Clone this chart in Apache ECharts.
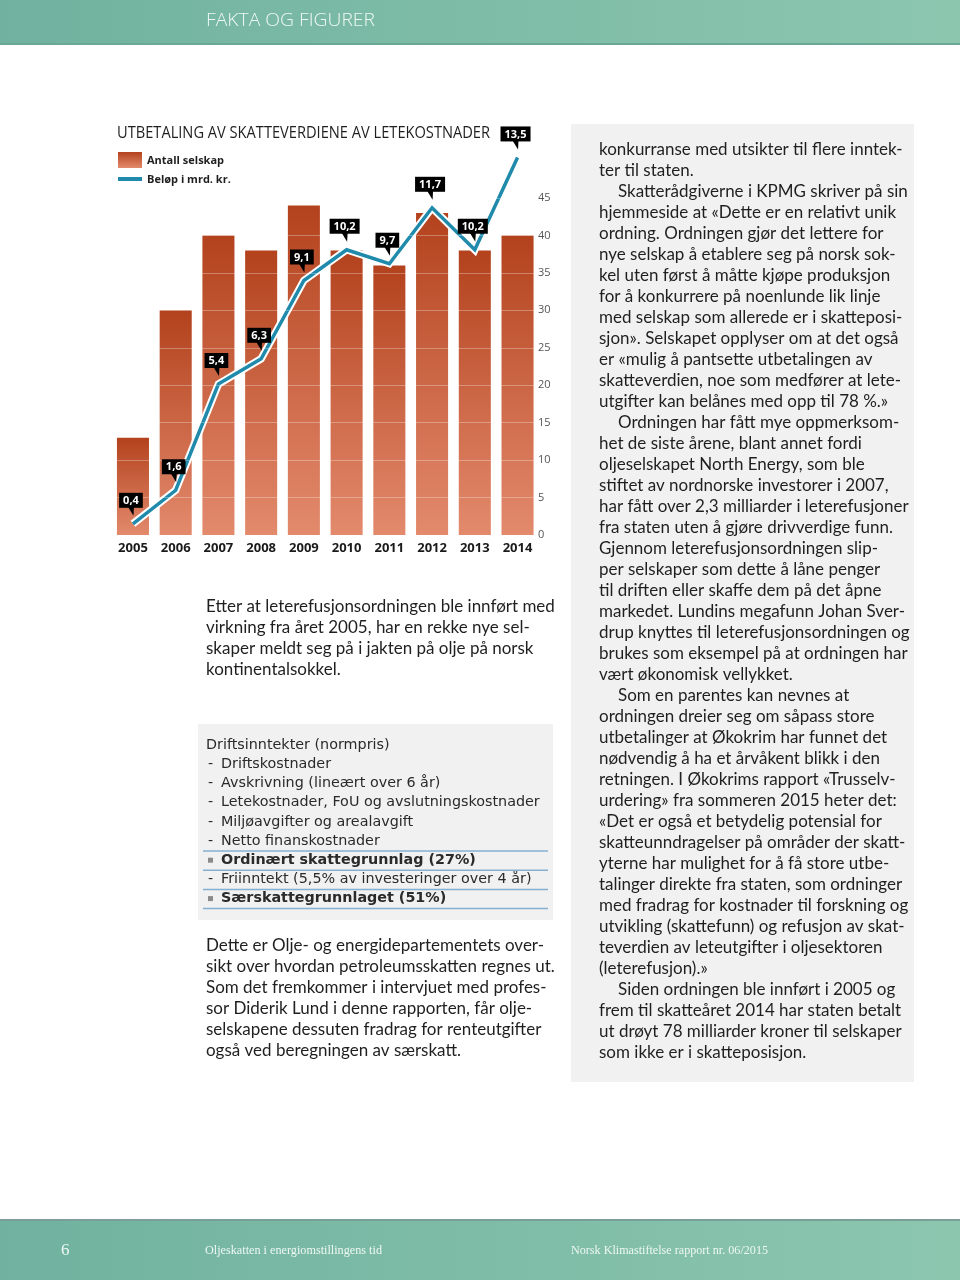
<!DOCTYPE html>
<html>
<head>
<meta charset="utf-8">
<script src="https://cdn.jsdelivr.net/npm/echarts@6/dist/echarts.min.js"></script>
<style>
html,body{margin:0;padding:0;background:#fff;}
#c{width:960px;height:1280px;}
</style>
</head>
<body>
<div id="c"></div>
<script>
// ---------- DATA ----------
const years = ['2005','2006','2007','2008','2009','2010','2011','2012','2013','2014'];
const companies = [13, 30, 40, 38, 44, 38, 36, 43, 38, 40];          // Antall selskap
const amounts = [0.4, 1.6, 5.4, 6.3, 9.1, 10.2, 9.7, 11.7, 10.2, 13.5]; // Beløp i mrd. kr.
const companyAxis = { min: 0, max: 45, interval: 5 };

const chartTitle = 'UTBETALING AV SKATTEVERDIENE AV LETEKOSTNADER';
const legendBar = 'Antall selskap';
const legendLine = 'Beløp i mrd. kr.';

const headerText = 'FAKTA OG FIGURER';
const footerPage = '6';
const footerLeft = 'Oljeskatten i energiomstillingens tid';
const footerRight = 'Norsk Klimastiftelse rapport nr. 06/2015';

const leftIntro = [
  'Etter at leterefusjonsordningen ble innført med',
  'virkning fra året 2005, har en rekke nye sel-',
  'skaper meldt seg på i jakten på olje på norsk',
  'kontinentalsokkel.'
];
const listPrefixes = ['', '-', '-', '-', '-', '-', '▪', '-', '▪'];
const listTexts = [
  'Driftsinntekter (normpris)',
  'Driftskostnader',
  'Avskrivning (lineært over 6 år)',
  'Letekostnader, FoU og avslutningskostnader',
  'Miljøavgifter og arealavgift',
  'Netto finanskostnader',
  'Ordinært skattegrunnlag (27%)',
  'Friinntekt (5,5% av investeringer over 4 år)',
  'Særskattegrunnlaget (51%)'
];
const listRuleAfter = [5, 6, 7, 8];
const leftOutro = [
  'Dette er Olje- og energidepartementets over-',
  'sikt over hvordan petroleumsskatten regnes ut.',
  'Som det fremkommer i intervjuet med profes-',
  'sor Diderik Lund i denne rapporten, får olje-',
  'selskapene dessuten fradrag for renteutgifter',
  'også ved beregningen av særskatt.'
];
const rightLines = [
  'konkurranse med utsikter til flere inntek-',
  'ter til staten.',
  'Skatterådgiverne i KPMG skriver på sin',
  'hjemmeside at «Dette er en relativt unik',
  'ordning. Ordningen gjør det lettere for',
  'nye selskap å etablere seg på norsk sok-',
  'kel uten først å måtte kjøpe produksjon',
  'for å konkurrere på noenlunde lik linje',
  'med selskap som allerede er i skatteposi-',
  'sjon». Selskapet opplyser om at det også',
  'er «mulig å pantsette utbetalingen av',
  'skatteverdien, noe som medfører at lete-',
  'utgifter kan belånes med opp til 78 %.»',
  'Ordningen har fått mye oppmerksom-',
  'het de siste årene, blant annet fordi',
  'oljeselskapet North Energy, som ble',
  'stiftet av nordnorske investorer i 2007,',
  'har fått over 2,3 milliarder i leterefusjoner',
  'fra staten uten å gjøre drivverdige funn.',
  'Gjennom leterefusjonsordningen slip-',
  'per selskaper som dette å låne penger',
  'til driften eller skaffe dem på det åpne',
  'markedet. Lundins megafunn Johan Sver-',
  'drup knyttes til leterefusjonsordningen og',
  'brukes som eksempel på at ordningen har',
  'vært økonomisk vellykket.',
  'Som en parentes kan nevnes at',
  'ordningen dreier seg om såpass store',
  'utbetalinger at Økokrim har funnet det',
  'nødvendig å ha et årvåkent blikk i den',
  'retningen. I Økokrims rapport «Trusselv-',
  'urdering» fra sommeren 2015 heter det:',
  '«Det er også et betydelig potensial for',
  'skatteunndragelser på områder der skatt-',
  'yterne har mulighet for å få store utbe-',
  'talinger direkte fra staten, som ordninger',
  'med fradrag for kostnader til forskning og',
  'utvikling (skattefunn) og refusjon av skat-',
  'teverdien av leteutgifter i oljesektoren',
  '(leterefusjon).»',
  'Siden ordningen ble innført i 2005 og',
  'frem til skatteåret 2014 har staten betalt',
  'ut drøyt 78 milliarder kroner til selskaper',
  'som ikke er i skatteposisjon.'
];
const rightIndented = [2, 13, 26, 40];

// ---------- STYLE ----------
const BAR_TOP = '#b3421d', BAR_BOTTOM = '#e38a6d';
const LINE_COLOR = '#1f8aab';
const TEXT = '#1f1f1f';
const BODY_FONT = 'Lato';

const cv = document.createElement('canvas').getContext('2d');
function measure(text, font) { cv.font = font; return cv.measureText(text).width; }
function fitSize(text, fam, weight, target) { return 100 * target / measure(text, weight + ' 100px ' + fam); }
function fmt(v) { return v.toFixed(1).replace('.', ','); }

const bodySize = (fitSize(rightLines[0], BODY_FONT, 'normal', 306) + fitSize(leftOutro[1], BODY_FONT, 'normal', 346)) / 2;
const bodyFont = 'normal ' + bodySize.toFixed(2) + 'px ' + BODY_FONT;
const listSize = fitSize(listTexts[3], '"DejaVu Sans"', 'normal', 319);

function fittedText(text, x, y, font, fill, target) {
  const sx = target / measure(text, font);
  return { type: 'text', x: x, y: y, scaleX: sx, silent: true,
    style: { text: text, x: 0, y: 0, font: font, fill: fill, align: 'left', verticalAlign: 'middle' } };
}
function txt(text, x, y, font, fill) {
  return { type: 'text', x: x, y: y, silent: true,
    style: { text: text, x: 0, y: 0, font: font, fill: fill, align: 'left', verticalAlign: 'middle' } };
}

const graphics = [];
// header band
graphics.push({ type: 'rect', shape: { x: 0, y: 0, width: 960, height: 45 }, silent: true, z: -10,
  style: { fill: new echarts.graphic.LinearGradient(0, 0, 1, 0, [{ offset: 0, color: '#70b29f' }, { offset: 1, color: '#8cc6af' }]) } });
graphics.push({ type: 'rect', shape: { x: 0, y: 43, width: 960, height: 2 }, silent: true, z: -9, style: { fill: '#6aa794' } });
graphics.push(fittedText(headerText, 206, 21, '300 18px "Open Sans"', '#eef8f4', 169));
// footer band
graphics.push({ type: 'rect', shape: { x: 0, y: 1219, width: 960, height: 61 }, silent: true, z: -10,
  style: { fill: new echarts.graphic.LinearGradient(0, 0, 1, 0, [{ offset: 0, color: '#70b29f' }, { offset: 1, color: '#8cc6af' }]) } });
graphics.push({ type: 'rect', shape: { x: 0, y: 1219, width: 960, height: 2 }, silent: true, z: -9, style: { fill: '#7c9e98' } });
graphics.push(txt(footerPage, 61, 1251, 'normal 17px "Liberation Serif"', '#eef8f4'));
graphics.push(fittedText(footerLeft, 205, 1251, 'normal 13px "Liberation Serif"', '#eef8f4', 177));
graphics.push(fittedText(footerRight, 571, 1251, 'normal 13px "Liberation Serif"', '#eef8f4', 197));

// chart title
graphics.push(fittedText(chartTitle, 117, 133, 'normal 16px "Open Sans"', TEXT, 373));
// legend
graphics.push({ type: 'rect', shape: { x: 118, y: 152, width: 24, height: 16 }, silent: true,
  style: { fill: new echarts.graphic.LinearGradient(0, 0, 0, 1, [{ offset: 0, color: BAR_TOP }, { offset: 1, color: BAR_BOTTOM }]) } });
graphics.push(txt(legendBar, 147, 161, 'bold 11px "Open Sans"', TEXT));
graphics.push({ type: 'rect', shape: { x: 118, y: 177, width: 24, height: 4 }, silent: true, style: { fill: LINE_COLOR } });
graphics.push(txt(legendLine, 147, 180, 'bold 11px "Open Sans"', TEXT));

// left intro text
leftIntro.forEach((l, i) => graphics.push(txt(l, 206, 607 + 21 * i, bodyFont, TEXT)));
// list box
graphics.push({ type: 'rect', shape: { x: 198, y: 724, width: 355, height: 196 }, silent: true, z: -5, style: { fill: '#f1f1f1' } });
listTexts.forEach((t, i) => {
  const y = 745 + 19.2 * i;
  const bold = listPrefixes[i] === '▪';
  const f = (bold ? 'bold ' : 'normal ') + listSize.toFixed(2) + 'px "DejaVu Sans"';
  if (listPrefixes[i] === '') {
    graphics.push(txt(t, 206, y, f, '#2a2a2a'));
  } else {
    if (bold) {
      graphics.push({ type: 'rect', shape: { x: 208, y: y - 2.5, width: 5, height: 5 }, silent: true, style: { fill: '#8a8a8a' } });
    } else {
      graphics.push(txt('-', 208, y, f, '#2a2a2a'));
    }
    graphics.push(txt(t, 221, y, f, '#2a2a2a'));
  }
});
listRuleAfter.forEach(i => {
  const y = 745 + 19.2 * i + 10;
  graphics.push({ type: 'rect', shape: { x: 203, y: y - 0.75, width: 345, height: 1.5 }, silent: true, style: { fill: '#86b0d2' } });
});
// left outro text
leftOutro.forEach((l, i) => graphics.push(txt(l, 206, 946 + 21 * i, bodyFont, TEXT)));
// right column
graphics.push({ type: 'rect', shape: { x: 571, y: 124, width: 343, height: 958 }, silent: true, z: -5, style: { fill: '#f1f1f1' } });
rightLines.forEach((l, i) => {
  const indent = rightIndented.indexOf(i) >= 0 ? 19 : 0;
  graphics.push(txt(l, 599 + indent, 150 + 21 * i, bodyFont, TEXT));
});

// grid levels (drawn on top of bars, as in the original)
const gridLevels = [];
for (let v = companyAxis.min + companyAxis.interval; v <= companyAxis.max; v += companyAxis.interval) gridLevels.push(v);

const chart = echarts.init(document.getElementById('c'), null, { renderer: 'canvas' });
chart.setOption({
  animation: false,
  backgroundColor: '#fff',
  graphic: { elements: graphics },
  grid: { left: 111.6, right: 421.1, top: 198, bottom: 745 },
  xAxis: {
    type: 'category', data: years,
    axisLine: { show: false }, axisTick: { show: false },
    axisLabel: { margin: 7, fontSize: 13, fontWeight: 'bold', fontFamily: 'Open Sans', color: '#1a1a1a' }
  },
  yAxis: [
    {
      type: 'value', position: 'right', min: companyAxis.min, max: companyAxis.max, interval: companyAxis.interval,
      axisLine: { show: false }, axisTick: { show: false }, splitLine: { show: false },
      axisLabel: { margin: -1, fontSize: 11, fontFamily: 'Open Sans', color: '#555' }
    },
    { type: 'value', min: 0, max: 12.05, show: false }
  ],
  series: [
    {
      name: legendBar, type: 'bar', data: companies, barWidth: '75%', z: 2, silent: true,
      itemStyle: { color: new echarts.graphic.LinearGradient(0, 0, 0, 1, [{ offset: 0, color: BAR_TOP }, { offset: 1, color: BAR_BOTTOM }]) },
      markLine: {
        silent: true, symbol: ['none', 'none'], animation: false,
        label: { show: false },
        lineStyle: { color: 'rgba(255,255,255,0.3)', width: 1, type: 'solid' },
        data: gridLevels.map(v => ({ yAxis: v }))
      }
    },
    {
      type: 'line', yAxisIndex: 1, data: amounts, symbol: 'none', clip: false, z: 3, silent: true,
      lineStyle: { color: '#ffffff', width: 7.5, join: 'miter' }
    },
    {
      name: legendLine, type: 'line', yAxisIndex: 1, data: amounts, symbol: 'none', clip: false, z: 4, silent: true,
      lineStyle: { color: LINE_COLOR, width: 3.5, join: 'miter' }, itemStyle: { color: LINE_COLOR }
    },
    {
      type: 'custom', yAxisIndex: 1, clip: false, z: 5, silent: true,
      data: amounts.map((v, i) => [i, v]),
      renderItem: function (params, api) {
        const p = api.coord([api.value(0), api.value(1)]);
        const label = fmt(api.value(1));
        const font = 'bold 11px "Open Sans"';
        const tw = measure(label, font);
        const tipY = p[1] - 8, bb = tipY - 8, bh = 15, bw = tw + 8, cx = p[0] - 2;
        return {
          type: 'group',
          children: [
            { type: 'polygon', shape: { points: [[p[0] - 5, bb - 1], [p[0] + 1, bb - 1], [p[0] + 0.5, tipY]] }, style: { fill: '#000' } },
            { type: 'rect', shape: { x: cx - bw / 2, y: bb - bh, width: bw, height: bh }, style: { fill: '#000' } },
            { type: 'text', style: { text: label, x: cx, y: bb - bh / 2 + 0.5, align: 'center', verticalAlign: 'middle', font: font, fill: '#fff' } }
          ]
        };
      }
    }
  ]
});
</script>
</body>
</html>
